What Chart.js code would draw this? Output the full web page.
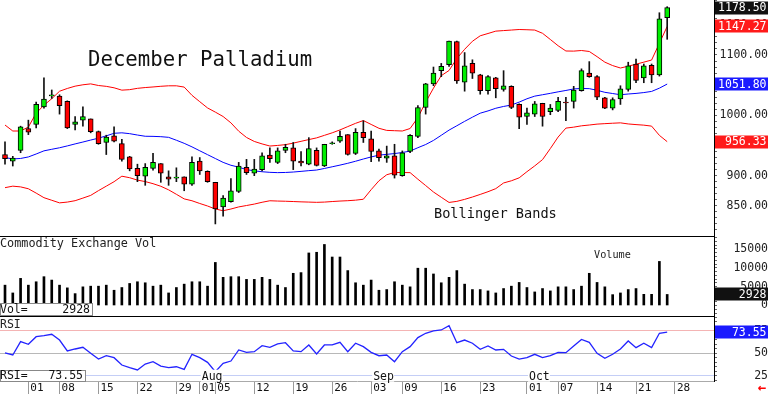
<!DOCTYPE html>
<html>
<head>
<meta charset="utf-8">
<script src="https://cdn.jsdelivr.net/npm/chart.js@4.4.0/dist/chart.umd.min.js"></script>
<style>
    html, body { margin: 0; padding: 0; background: #fff; }
    #wrap { position: relative; width: 768px; height: 394px; overflow: hidden; }
    canvas { position: absolute; left: 0; }
</style>
</head>
<body>
<div id="wrap">
    <canvas id="priceChart" width="768" height="236" style="top:0"></canvas>
    <canvas id="volChart" width="768" height="80" style="top:236px"></canvas>
    <canvas id="rsiChart" width="768" height="78" style="top:316px"></canvas>
</div>
<script>
// daily candles, 26 Jun .. 25 Oct (index = trading day)
const opens = [935, 924, 942, 978, 985, 1014, 1032, 1032, 1023, 985,
    992, 994, 973, 955, 966, 953, 931, 912, 899, 912,
    920, 898, 896, 898, 886, 924, 907, 889, 848, 857,
    874, 914, 904, 910, 934, 922, 942, 946, 924, 919,
    942, 916, 953, 957, 968, 937, 972, 961, 941, 929,
    933, 900, 940, 965, 1013, 1052, 1074, 1084, 1122, 1055,
    1086, 1067, 1041, 1062, 1043, 1048, 1018, 998, 1002, 1020,
    1006, 1008, 1022, 1023, 1041, 1070, 1064, 1029, 1012, 1027,
    1043, 1085, 1062, 1083, 1067, 1162];
const highs = [956, 932, 982, 992, 1022, 1062, 1042, 1034, 1024, 998,
    1014, 994, 974, 967, 981, 960, 932, 919, 920, 937,
    920, 908, 913, 898, 931, 930, 908, 889, 867, 895,
    922, 927, 927, 938, 946, 946, 952, 955, 940, 963,
    946, 952, 956, 974, 968, 978, 991, 974, 944, 949,
    952, 941, 968, 1016, 1053, 1080, 1086, 1123, 1123, 1104,
    1092, 1068, 1066, 1063, 1074, 1049, 1019, 1012, 1023, 1020,
    1018, 1030, 1030, 1048, 1077, 1089, 1066, 1030, 1029, 1049,
    1088, 1093, 1085, 1085, 1170, 1180];
const lows = [919, 916, 938, 968, 979, 1012, 1028, 1002, 978, 976,
    982, 971, 952, 935, 956, 924, 908, 890, 884, 909,
    889, 884, 890, 875, 884, 902, 889, 820, 833, 856,
    872, 902, 900, 908, 922, 920, 938, 910, 916, 918,
    916, 915, 952, 955, 934, 935, 955, 923, 924, 922,
    896, 899, 938, 963, 1002, 1049, 1064, 1081, 1053, 1040,
    1061, 1035, 1035, 1029, 1040, 1011, 978, 985, 998, 982,
    1001, 1006, 991, 1012, 1040, 1063, 1026, 1011, 1009, 1018,
    1040, 1054, 1054, 1054, 1065, 1126];
const closes = [928, 929, 981, 972, 1018, 1027, 1034, 1016, 979, 989,
    998, 973, 953, 964, 957, 927, 911, 900, 914, 922,
    904, 894, 897.5, 886, 922, 908, 890, 845, 863, 875,
    916, 905, 911, 933, 928, 941, 947, 924, 921, 945,
    917, 952, 954.5, 965, 935, 972, 963, 940, 930, 933,
    901, 938, 967, 1013, 1052, 1070, 1081, 1123, 1057, 1082,
    1070, 1041, 1064, 1044, 1049, 1013, 997, 1004, 1019, 998,
    1012, 1023, 1020.5, 1042, 1074, 1064, 1030, 1012, 1026, 1044,
    1082, 1058, 1082, 1067, 1160, 1178.5];

const bandUpper = [983.9, 974, 974, 980.6, 1003.6, 1016.8, 1027.5, 1039.9, 1044.5, 1048.3,
    1050.6, 1052.1, 1049.4, 1048, 1045.6, 1041.7, 1042.5, 1044.7, 1046, 1047,
    1048.1, 1048.9, 1048.9, 1046.8, 1033.1, 1022.6, 1012.2, 1005.3, 998, 987.5,
    973.7, 963.3, 956.7, 952.6, 949.1, 950.1, 951.4, 953.9, 956.9, 959.8,
    962.6, 966.8, 971, 975.8, 981.3, 986.7, 991.3, 984.9, 978.5, 975,
    974.5, 974, 978.1, 996.2, 1021.8, 1045, 1065.7, 1074.3, 1094.2, 1109.4,
    1122.7, 1131.8, 1135.6, 1139.5, 1140.4, 1141.3, 1142.2, 1141.8, 1141.3, 1135.9,
    1125.7, 1115.3, 1106.6, 1106.4, 1107.4, 1105.8, 1097.2, 1088.1, 1082.4, 1078.4,
    1081.4, 1084.7, 1088.1, 1091.6, 1119.4, 1147.27];
const bandMiddle = [930, 927.7, 928.5, 931, 935.9, 941.1, 943.7, 946.2, 949.3, 952.6,
    955.7, 959, 962.1, 966, 970.2, 971, 969.6, 967.3, 965.3, 965.1,
    964.6, 963.5, 958.7, 953.6, 947.7, 941.2, 934.8, 928.4, 922, 917.2,
    914.1, 910, 908, 906.5, 905.5, 905, 905.3, 906, 907.1, 908.3,
    909.3, 911.9, 914.7, 917.5, 920.5, 923.9, 927.6, 931, 934, 935.3,
    936.6, 938.4, 940.7, 946.3, 951.6, 958.4, 966.9, 975.5, 982.7, 990,
    996.9, 1003.5, 1007.3, 1011.7, 1014.7, 1017, 1021.9, 1027.4, 1031.8, 1034.1,
    1036.4, 1038.9, 1041.2, 1043.7, 1044.5, 1044.2, 1041.5, 1038.1, 1036.1, 1034.1,
    1035.3, 1036.3, 1037.7, 1039.6, 1045, 1051.8];
const bandLower = [880.1, 882.6, 881.4, 878.3, 871.1, 863.5, 859.2, 854.9, 856.2, 858.5,
    862.8, 867.3, 875.2, 882.6, 890, 899.1, 896.6, 892.6, 890.2, 886.7,
    882.4, 876.5, 869.1, 861.5, 858.4, 853.9, 849.7, 844.7, 841.9, 844.7,
    848.2, 850.5, 852.9, 855.9, 858.4, 857.9, 857.6, 857.1, 856.6, 856.2,
    855.8, 856.2, 857.1, 857.9, 858.5, 859.4, 860.9, 876.8, 891.5, 901.5,
    905.2, 905.2, 905, 894.1, 883.6, 872.9, 864.2, 855.6, 857.4, 860.7,
    864.6, 868.9, 873.4, 878.5, 887.9, 891.5, 896.4, 906.6, 916.2, 926.6,
    944.9, 964, 978.8, 980.4, 982.6, 983.9, 985.4, 986.2, 986.9, 987.5,
    985.7, 984.6, 983.7, 982.1, 966.8, 956.33];

const volumes = [5400, 3330, 7200, 5400, 6300, 7650, 6750, 5400, 4680, 3150,
    4950, 5130, 5130, 5400, 4050, 4770, 5850, 6300, 6030, 5130,
    5400, 3330, 4770, 5670, 6300, 6300, 5130, 11430, 7470, 7650,
    7650, 6930, 6930, 7470, 6930, 5400, 4770, 8550, 8730, 13950,
    14130, 16200, 12870, 12870, 9270, 6030, 5400, 6750, 4050, 4230,
    6300, 5400, 4950, 9900, 9900, 8370, 6030, 7470, 9270, 5670,
    4230, 4230, 3870, 3330, 4500, 5130, 6120, 4770, 3600, 4500,
    3870, 4950, 4950, 4230, 5130, 8550, 6120, 4950, 2880, 3330,
    4230, 4500, 2970, 2970, 11700, 2928];

const rsiValues = [50.5, 48.1, 63, 60, 68.5, 69.6, 71.2, 64.8, 52.6, 54.8,
    56.7, 50, 43.6, 47.3, 45.1, 36.9, 34, 31.4, 38, 40.6,
    35.8, 34, 35, 32.1, 48.9, 45.1, 39.9, 29.5, 38.8, 41.4,
    53.7, 51.1, 51.8, 58.5, 56.7, 60.4, 61.8, 52.6, 51.8, 59.3,
    49.2, 59.3, 59.3, 62.3, 51.8, 61.2, 57.4, 51.1, 47.3, 48.1,
    40.6, 51.8, 57.4, 67.5, 72.3, 74.9, 76, 80.8, 61.8, 64.8,
    61.2, 54.4, 58.2, 53.7, 54.4, 47, 43.6, 45.1, 48.9, 45.1,
    47.3, 51.1, 50.7, 58.2, 65.5, 62.3, 50, 44.4, 48.9, 54.8,
    63.8, 56.3, 61.2, 56.3, 72.3, 73.55];

// date axis: trading-day index of each labelled day
const dateTickIdx = [3, 7, 12, 17, 22, 25, 27, 32, 37, 42, 47, 51, 56, 61, 67, 71, 76, 81, 86];
const dateTickText = ['01', '08', '15', '22', '29', '01', '05', '12', '19', '26', '03', '09', '16', '23', '01', '07', '14', '21', '28'];
const monthIdx = [25, 47, 67];
const monthText = ['Aug', 'Sep', 'Oct'];

const FONT = "'DejaVu Sans Mono', monospace";
const GREEN = '#00ee00';
const RED = '#ff0000';
const BLUE = '#0000ff';
const X_MIN = -0.642;
const X_MAX = 91.01;
const AXIS_W = 54;

const pts = (arr) => arr.map((v, i) => ({ x: i, y: v }));
const last = (arr) => arr[arr.length - 1];
const pad7 = (s) => s.padStart(7, ' ');

function noPadding(s) {
    s.paddingTop = 0;
    s.paddingBottom = 0;
    s.paddingLeft = 0;
    s.paddingRight = 0;
}

function xAxisHidden() {
    return { type: 'linear', min: X_MIN, max: X_MAX, offset: false, display: false };
}

function rightAxis(min, max, step, labelEvery, fmt) {
    return {
        position: 'right',
        min, max,
        afterFit: (s) => { s.width = AXIS_W; noPadding(s); },
        afterBuildTicks: (s) => {
            const ticks = [];
            for (let v = Math.ceil(min / step) * step; v < max; v += step) {
                if (v > min) ticks.push({ value: v });
            }
            s.ticks = ticks;
        },
        ticks: {
            autoSkip: false, padding: 0, crossAlign: 'far', color: '#222',
            font: { family: FONT, size: 11.5 },
            callback: (v) => (v % labelEvery === 0 ? pad7(fmt(v)) : '')
        },
        grid: { drawOnChartArea: false, tickLength: 3, tickColor: '#666' },
        border: { color: '#000' }
    };
}

function text(ctx, str, x, y, size, color, align, weight) {
    ctx.save();
    ctx.font = `${weight || ''} ${size}px ${FONT}`;
    ctx.fillStyle = color;
    ctx.textAlign = align || 'left';
    ctx.textBaseline = 'middle';
    ctx.fillText(str, x, y);
    ctx.restore();
}

function valueBox(chart, value, label, bg) {
    const ctx = chart.ctx;
    const y = chart.scales.y.getPixelForValue(value);
    ctx.save();
    ctx.fillStyle = bg;
    ctx.fillRect(chart.chartArea.right + 1, Math.round(y) - 6.5, 54, 13);
    ctx.restore();
    text(ctx, label, 766.5, y + 0.5, 11.5, '#fff', 'right');
}

function infoBox(ctx, x, y, w, h, left, right) {
    ctx.save();
    ctx.fillStyle = '#fff';
    ctx.fillRect(x, y, w, h);
    ctx.strokeStyle = '#888';
    ctx.lineWidth = 1;
    ctx.strokeRect(x + 0.5, y + 0.5, w, h);
    ctx.restore();
    text(ctx, left, x, y + h / 2 + 1, 11.5, '#111');
    text(ctx, right, x + w - 2, y + h / 2 + 1, 11.5, '#111', 'right');
}

function topRule(chart) {
    const ctx = chart.ctx;
    ctx.save();
    ctx.strokeStyle = '#000';
    ctx.lineWidth = 1;
    ctx.beginPath();
    ctx.moveTo(0, 0.5);
    ctx.lineTo(chart.chartArea.right, 0.5);
    ctx.stroke();
    ctx.restore();
}

const common = {
    responsive: false,
    animation: false,
    events: [],
    layout: { padding: 0, autoPadding: false },
    plugins: { legend: { display: false }, tooltip: { enabled: false } }
};

// price panel
new Chart(document.getElementById('priceChart'), {
    type: 'bar',
    data: {
        datasets: [
            { type: 'line', data: pts(bandUpper), borderColor: RED, borderWidth: 1, pointRadius: 0, order: 3 },
            { type: 'line', data: pts(bandMiddle), borderColor: BLUE, borderWidth: 1, pointRadius: 0, order: 3 },
            { type: 'line', data: pts(bandLower), borderColor: RED, borderWidth: 1, pointRadius: 0, order: 3 },
            {
                data: highs.map((h, i) => ({ x: i, y: [lows[i], h] })),
                backgroundColor: '#111', barThickness: 1, grouped: false, order: 2
            },
            {
                data: opens.map((o, i) => ({ x: i, y: [o, closes[i]] })),
                backgroundColor: closes.map((c, i) => (c >= opens[i] ? GREEN : RED)),
                borderColor: '#000', borderWidth: 1, borderSkipped: false,
                barThickness: 5, grouped: false, order: 1
            }
        ]
    },
    options: {
        ...common,
        scales: {
            x: xAxisHidden(),
            y: rightAxis(800, 1191.1, 10, 50, (v) => v.toFixed(2))
        }
    },
    plugins: [{
        id: 'priceOverlay',
        afterDraw(chart) {
            const ctx = chart.ctx;
            text(ctx, 'December Palladium', 88, 61, 20.7, '#111');
            text(ctx, 'Bollinger Bands', 434, 214, 13.6, '#111');
            valueBox(chart, last(closes), last(closes).toFixed(2), '#111');
            valueBox(chart, last(bandUpper), last(bandUpper).toFixed(2), '#ff1a1a');
            valueBox(chart, last(bandMiddle), last(bandMiddle).toFixed(2), '#1a1aff');
            valueBox(chart, last(bandLower), last(bandLower).toFixed(2), '#ff1a1a');
        }
    }]
});

// volume panel
new Chart(document.getElementById('volChart'), {
    type: 'bar',
    data: {
        datasets: [{
            data: pts(volumes),
            backgroundColor: '#000', barThickness: 2, grouped: false
        }]
    },
    options: {
        ...common,
        scales: {
            x: xAxisHidden(),
            y: rightAxis(-2790, 18450, 1000, 5000, (v) => String(v))
        }
    },
    plugins: [{
        id: 'volOverlay',
        afterDraw(chart) {
            const ctx = chart.ctx;
            topRule(chart);
            text(ctx, 'Commodity Exchange Vol', 0, 8, 11.8, '#222');
            text(ctx, 'Volume', 594, 19, 10.2, '#222');
            infoBox(ctx, 0, 67, 92, 12, 'Vol=', String(last(volumes)));
            valueBox(chart, last(volumes), String(last(volumes)), '#111');
        }
    }]
});

// RSI panel with date axis
const rsiLineColor = { 75: '#f4b4b4', 50: '#b8b8b8', 25: '#c4cef6' };
new Chart(document.getElementById('rsiChart'), {
    type: 'line',
    data: {
        datasets: [{
            data: pts(rsiValues),
            borderColor: '#2323ff', borderWidth: 1.3, pointRadius: 0
        }]
    },
    options: {
        ...common,
        scales: {
            x: {
                type: 'linear', min: X_MIN, max: X_MAX, offset: false,
                afterFit: (s) => { s.height = 13; noPadding(s); },
                afterBuildTicks: (s) => { s.ticks = dateTickIdx.map((v) => ({ value: v })); },
                ticks: {
                    autoSkip: false, align: 'start', labelOffset: 2, padding: -12,
                    maxRotation: 0, minRotation: 0, color: '#111',
                    font: { family: FONT, size: 11 },
                    callback: (v, i) => dateTickText[i]
                },
                grid: { drawOnChartArea: false, tickLength: 13, tickColor: '#999' },
                border: { color: '#aaa' }
            },
            y: {
                ...rightAxis(19.1, 91.6, 5, 25, (v) => String(v)),
                grid: {
                    drawOnChartArea: true, tickLength: 3, tickColor: '#666',
                    color: (c) => (c.tick && rsiLineColor[c.tick.value]) || 'rgba(0,0,0,0)'
                }
            }
        }
    },
    plugins: [{
        id: 'rsiOverlay',
        afterDatasetsDraw(chart) {
            const ctx = chart.ctx;
            const xs = chart.scales.x;
            const y25 = chart.scales.y.getPixelForValue(25);
            monthIdx.forEach((idx, k) => {
                const x = xs.getPixelForValue(idx) + 1;
                ctx.save();
                ctx.fillStyle = '#fff';
                ctx.fillRect(x, y25 - 6, 22, 12);
                ctx.restore();
                text(ctx, monthText[k], x + 1, y25 + 1, 11.5, '#111');
            });
        },
        afterDraw(chart) {
            const ctx = chart.ctx;
            topRule(chart);
            text(ctx, 'RSI', 0, 9, 11.5, '#222');
            infoBox(ctx, 0, 54, 85, 11, 'RSI=', last(rsiValues).toFixed(2));
            valueBox(chart, last(rsiValues), last(rsiValues).toFixed(2), '#1a1aff');
            text(ctx, '\u2190', 762, 72, 14, '#ff0000', 'center', 'bold');
        }
    }]
});
</script>
</body>
</html>
